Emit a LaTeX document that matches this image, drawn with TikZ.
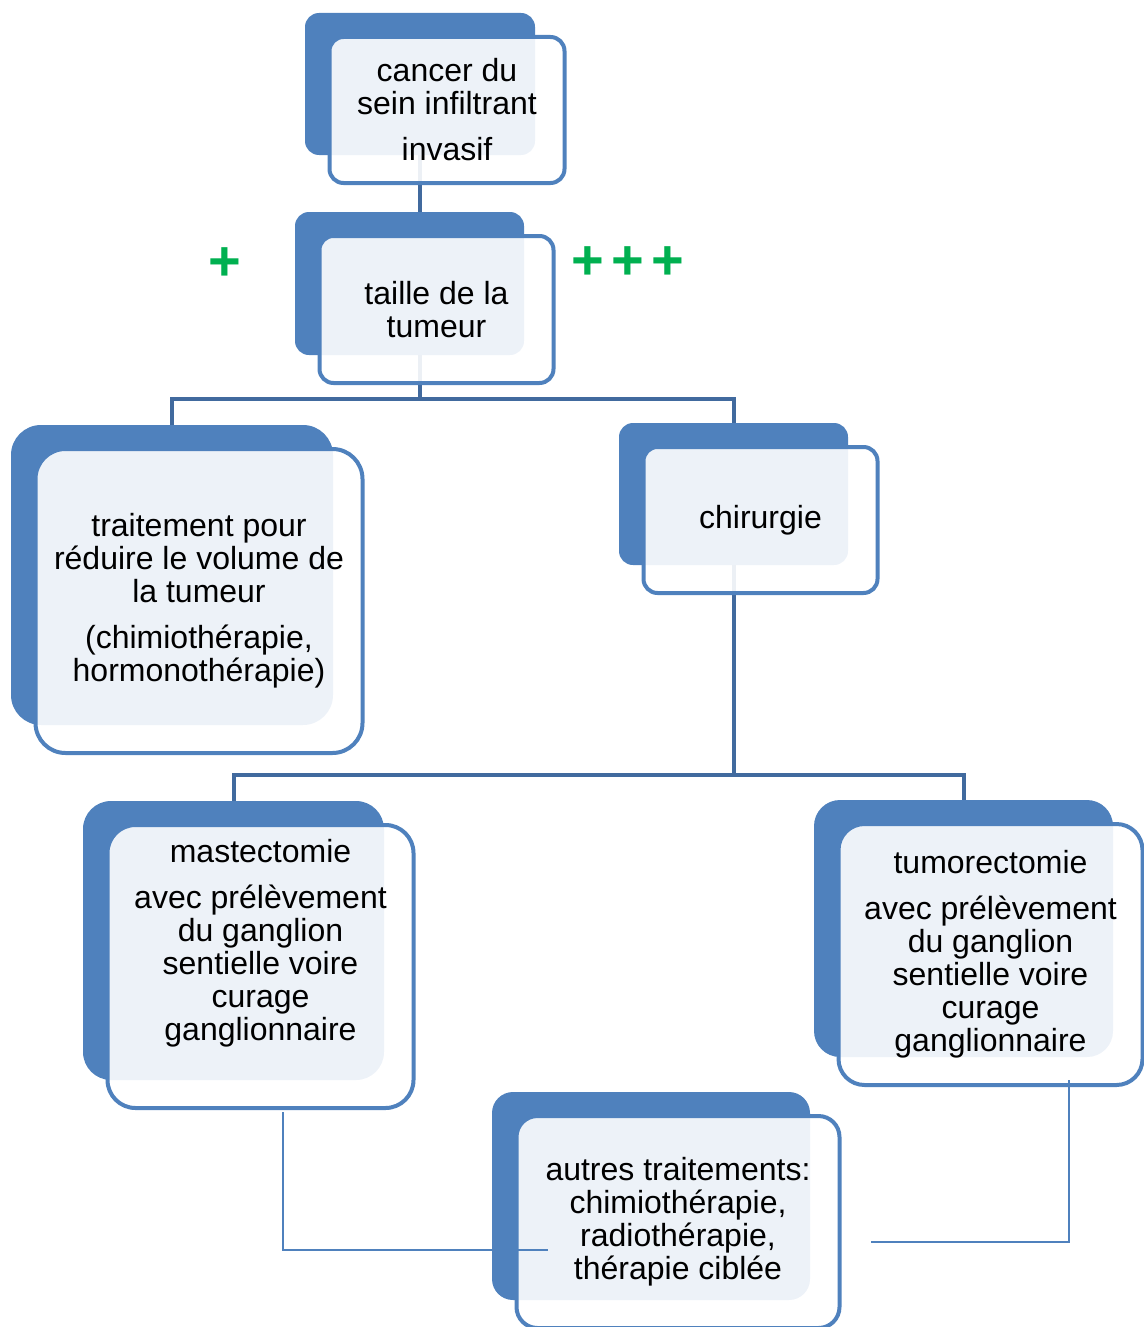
\documentclass[tikz,border=0pt]{standalone}
\usepackage{fontspec}
\setmainfont{Liberation Sans}
\usetikzlibrary{calc}
\pgfdeclarelayer{background}
\pgfsetlayers{background,main}
\definecolor{boxblue}{RGB}{79,129,189}
\definecolor{linkblue}{RGB}{65,106,158}
\definecolor{plusgreen}{RGB}{0,176,80}
\tikzstyle{backbox}=[rectangle,fill=boxblue,draw=none,inner sep=0pt]
\tikzstyle{frontbox}=[rectangle,draw=boxblue,line width=2pt,fill=white,fill opacity=0.9,text opacity=1,align=center,inner sep=0pt,font=\fontsize{16}{16.5}\selectfont]
\tikzstyle{tree}=[draw=linkblue,line width=2pt]
\tikzstyle{link}=[draw=boxblue,line width=0.8pt]
\tikzstyle{plusmark}=[text=plusgreen,font=\fontsize{28}{28}\selectfont\bfseries,inner sep=0pt]

\begin{document}
\begin{tikzpicture}[x=0.5pt,y=-0.5pt]
\def \dx {27};
\def \dy {26};
\def \gw {2.5pt};
\def \gh {2pt};
\useasboundingbox (0,0) rectangle (1144,1327);

% first level
\node[backbox,minimum width=115pt,minimum height=71pt,rounded corners=7pt] (cancerB) at (420,84) {};
\node[frontbox,minimum width=115pt+\gw,minimum height=71pt+\gh,rounded corners=7pt] (cancer)
	at ($(cancerB)+(\dx,\dy)$) {cancer du\\ sein infiltrant\\[6.5pt] invasif};

\node[backbox,minimum width=114.5pt,minimum height=71.5pt,rounded corners=7pt] (tailleB) at (409.5,283.5) {};
\node[frontbox,minimum width=114.5pt+\gw,minimum height=71.5pt+\gh,rounded corners=7pt] (taille)
	at ($(tailleB)+(\dx,\dy)$) {taille de la\\ tumeur};

% second level
\node[backbox,minimum width=161pt,minimum height=150pt,rounded corners=15pt] (traitementB) at (172,575) {};
\node[frontbox,minimum width=161pt+\gw,minimum height=150pt+\gh,rounded corners=15pt] (traitement)
	at ($(traitementB)+(\dx,\dy)$) {traitement pour\\ réduire le volume de\\ la tumeur\\[6.5pt] (chimiothérapie,\\ hormonothérapie)};

\node[backbox,minimum width=114.5pt,minimum height=71pt,rounded corners=7pt] (chirurgieB) at (733.5,494) {};
\node[frontbox,minimum width=114.5pt+\gw,minimum height=71pt+\gh,rounded corners=7pt] (chirurgie)
	at ($(chirurgieB)+(\dx,\dy)$) {chirurgie};

% third level
\node[backbox,minimum width=150.5pt,minimum height=139.5pt,rounded corners=14pt] (mastectomieB) at (233.5,940.5) {};
\node[frontbox,minimum width=150.5pt+\gw,minimum height=139.5pt+\gh,rounded corners=14pt] (mastectomie)
	at ($(mastectomieB)+(\dx,\dy)$) {mastectomie\\[6.5pt] avec prélèvement\\ du ganglion\\ sentielle voire\\ curage\\ ganglionnaire\\[10.5pt]\mbox{}};

\node[backbox,minimum width=149.5pt,minimum height=128.5pt,rounded corners=13pt] (tumorectomieB) at (963.5,928.5) {};
\node[frontbox,minimum width=149.5pt+\gw,minimum height=128.5pt+\gh,rounded corners=13pt] (tumorectomie)
	at ($(tumorectomieB)+(\dx,\dy)$) {tumorectomie\\[6.5pt] avec prélèvement\\ du ganglion\\ sentielle voire\\ curage\\ ganglionnaire};

\node[backbox,minimum width=159pt,minimum height=104pt,rounded corners=10.5pt] (autresB) at (651,1196) {};
\node[frontbox,minimum width=159pt+\gw,minimum height=104pt+\gh,rounded corners=10.5pt] (autres)
	at ($(autresB)+(\dx,\dy)$) {autres traitements:\\ chimiothérapie,\\ radiothérapie,\\ thérapie ciblée};

% tree lines behind the boxes
\coordinate (split1) at (420,399);
\coordinate (split2) at (733.5,775);
\begin{pgfonlayer}{background}
	\draw[tree] (cancerB) -- (cancerB |- tailleB);
	\draw[tree] (cancerB |- tailleB) -- (split1);
	\draw[tree] (traitementB) |- (split1) -| (chirurgieB);
	\draw[tree] (chirurgieB) -- (split2);
	\draw[tree] (mastectomieB) |- (split2) -| (tumorectomieB);
\end{pgfonlayer}

% thin links to the last box
\coordinate (mastOut) at (283,1112);
\coordinate (autresInL) at (548,1250);
\coordinate (tumOut) at (1069,1080);
\coordinate (autresInR) at (871,1242);
\draw[link] (mastOut) |- (autresInL);
\draw[link] (tumOut) |- (autresInR);

% plus signs
\node[plusmark] (plusL) at (225,264) {+};
\foreach \px in {588,628,668} {
	\node[plusmark] (plus\px) at (\px,263) {+};
};

\end{tikzpicture}
\end{document}
